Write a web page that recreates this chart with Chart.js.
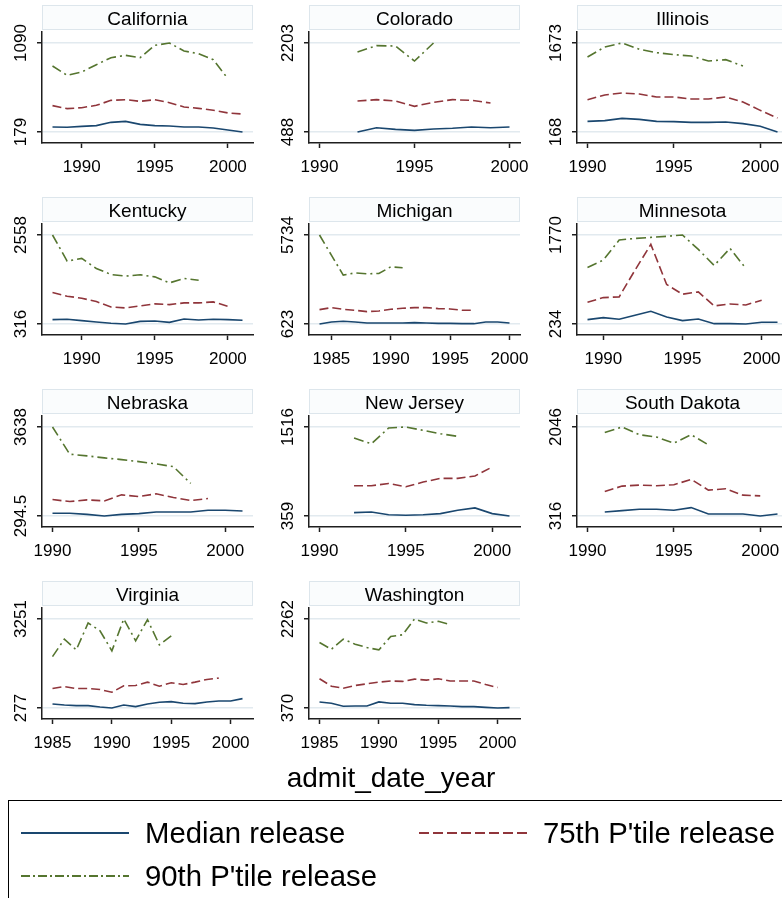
<!DOCTYPE html>
<html>
<head>
<meta charset="utf-8">
<script src="https://cdn.jsdelivr.net/npm/chart.js@4.4.1/dist/chart.umd.min.js"></script>
<style>
  html, body { margin: 0; padding: 0; background: #fff; }
  #page { position: relative; width: 782px; height: 898px; overflow: hidden;
          font-family: "Liberation Sans", Arial, Helvetica, sans-serif; background: #fff; }
  canvas.panel { position: absolute; }
  #xtitle { position: absolute; left: 0; width: 782px; top: 762px; text-align: center;
            font-size: 28px; line-height: 32px; color: #000; }
  #legend { position: absolute; left: 8px; top: 800px; width: 800px; height: 120px;
            border: 1.5px solid #000; box-sizing: border-box; }
  #legend .item { position: absolute; font-size: 29.3px; line-height: 32px; color: #000; white-space: nowrap; }
</style>
</head>
<body>
<div id="page">
  <div id="xtitle">admit_date_year</div>
  <div id="legend">
    <svg width="790" height="110" style="position:absolute;left:0;top:0">
      <line x1="12" y1="32" x2="120" y2="32" stroke="#1a476f" stroke-width="2"/>
      <line x1="410" y1="32" x2="519" y2="32" stroke="#90353b" stroke-width="2" stroke-dasharray="10 4"/>
      <line x1="12" y1="75" x2="120" y2="75" stroke="#55752f" stroke-width="2" stroke-dasharray="9 3 2 3"/>
    </svg>
    <div class="item" style="left:136px;top:16px">Median release</div>
    <div class="item" style="left:534px;top:16px">75th P'tile release</div>
    <div class="item" style="left:136px;top:59px">90th P'tile release</div>
  </div>
</div>
<script>
// Release times by admission year, one panel per state.
// Each series starts at the state's first year; shorter series simply end earlier.
const xTicksFrom1985 = [1985, 1990, 1995, 2000];
const xTicksFrom1990 = [1990, 1995, 2000];

const caStart = 1988;
const caMedian = [230, 227, 237, 244, 278, 288, 257, 244, 240, 230, 230, 220, 199, 179];
const caP75    = [449, 418, 428, 452, 503, 510, 493, 510, 479, 435, 421, 401, 374, 363];
const caP90    = [855, 759, 793, 868, 940, 964, 940, 1066, 1090, 1008, 981, 919, 725];

const coStart = 1992;
const coMedian = [488, 571, 539, 520, 546, 559, 584, 571, 584];
const coP75    = [1085, 1111, 1085, 983, 1060, 1111, 1098, 1047];
const coP90    = [2030, 2152, 2145, 1856, 2203];

const ilStart = 1990;
const ilMedian = [348, 360, 399, 382, 348, 343, 331, 331, 337, 309, 264, 168];
const ilP75    = [715, 794, 828, 811, 760, 760, 726, 726, 760, 675, 534, 405];
const ilP90    = [1436, 1605, 1673, 1566, 1510, 1476, 1453, 1369, 1391, 1284];

const kyStart = 1988;
const kyMedian = [426, 434, 400, 367, 333, 316, 383, 392, 358, 442, 417, 434, 426, 409];
const kyP75    = [1108, 1016, 965, 881, 746, 721, 771, 822, 805, 847, 847, 872, 763];
const kyP90    = [2558, 1901, 1968, 1715, 1563, 1521, 1555, 1504, 1352, 1462, 1420];

const miStart = 1984;
const miMedian = [623, 738, 777, 738, 681, 681, 681, 681, 700, 681, 661, 661, 642, 642, 738, 738, 681];
const miP75    = [1449, 1564, 1468, 1411, 1334, 1372, 1468, 1526, 1564, 1564, 1507, 1488, 1411, 1411];
const miP90    = [5734, 4580, 3428, 3562, 3505, 3524, 3908, 3850];

const mnStart = 1989;
const mnMedian = [309, 344, 315, 384, 453, 355, 292, 321, 240, 240, 234, 263, 263];
const mnP75    = [609, 690, 702, 1164, 1608, 915, 748, 788, 546, 580, 563, 643];
const mnP90    = [1210, 1337, 1683, 1711, 1729, 1747, 1770, 1522, 1245, 1539, 1193];

const neStart = 1990;
const neMedian = [395, 395, 357, 294.5, 357, 383, 446, 446, 446, 509, 509, 484];
const neP75    = [913, 837, 900, 862, 1089, 1026, 1127, 989, 875, 951];
const neP90    = [3638, 2616, 2553, 2477, 2414, 2338, 2250, 2149, 1518];

const njStart = 1992;
const njMedian = [403, 411, 376, 368, 376, 390, 433, 464, 390, 359];
const njP75    = [752, 752, 782, 739, 800, 848, 848, 879, 996];
const njP90    = [1372, 1298, 1503, 1516, 1472, 1429, 1394];

const sdStart = 1991;
const sdMedian = [394, 420, 447, 447, 427, 479, 355, 355, 355, 316, 355];
const sdP75    = [793, 897, 917, 904, 923, 1028, 819, 845, 721, 708];
const sdP90    = [1941, 2046, 1896, 1850, 1733, 1896, 1700];

const vaStart = 1985;
const vaMedian = [412, 378, 356, 356, 311, 277, 378, 322, 412, 468, 490, 434, 423, 479, 513, 513, 591];
const vaP75    = [928, 995, 928, 928, 894, 804, 1018, 1029, 1141, 1007, 1119, 1063, 1141, 1231, 1276];
const vaP90    = [1994, 2578, 2219, 3117, 2858, 2185, 3251, 2522, 3229, 2387, 2690];

const waStart = 1985;
const waMedian = [499, 470, 406, 413, 413, 499, 470, 470, 441, 427, 420, 413, 399, 399, 384, 370, 377];
const waP75    = [991, 834, 791, 848, 884, 920, 943, 935, 984, 963, 991, 943, 943, 943, 870, 806];
const waP90    = [1762, 1619, 1834, 1726, 1655, 1605, 1891, 1927, 2262, 2176, 2212, 2141];

const panels = [
  { name: 'California',   start: caStart, median: caMedian, p75: caP75, p90: caP90, xTicks: xTicksFrom1990 },
  { name: 'Colorado',     start: coStart, median: coMedian, p75: coP75, p90: coP90, xTicks: xTicksFrom1990 },
  { name: 'Illinois',     start: ilStart, median: ilMedian, p75: ilP75, p90: ilP90, xTicks: xTicksFrom1990 },
  { name: 'Kentucky',     start: kyStart, median: kyMedian, p75: kyP75, p90: kyP90, xTicks: xTicksFrom1990 },
  { name: 'Michigan',     start: miStart, median: miMedian, p75: miP75, p90: miP90, xTicks: xTicksFrom1985 },
  { name: 'Minnesota',    start: mnStart, median: mnMedian, p75: mnP75, p90: mnP90, xTicks: xTicksFrom1990 },
  { name: 'Nebraska',     start: neStart, median: neMedian, p75: neP75, p90: neP90, xTicks: xTicksFrom1990 },
  { name: 'New Jersey',   start: njStart, median: njMedian, p75: njP75, p90: njP90, xTicks: xTicksFrom1990 },
  { name: 'South Dakota', start: sdStart, median: sdMedian, p75: sdP75, p90: sdP90, xTicks: xTicksFrom1990 },
  { name: 'Virginia',     start: vaStart, median: vaMedian, p75: vaP75, p90: vaP90, xTicks: xTicksFrom1985 },
  { name: 'Washington',   start: waStart, median: waMedian, p75: waP75, p90: waP90, xTicks: xTicksFrom1985 }
];

const FONT = '"Liberation Sans", Arial, Helvetica, sans-serif';
const NAVY = '#1a476f', MAROON = '#90353b', FOREST = '#55752f';
const AXIS = '#1e1e1e', GRID = '#e2eaef';

// Panel geometry (pixels)
const COL_AXIS_X = [42, 309, 577];
const ROW_PITCH = 192;
const CANVAS_W = 261, CANVAS_H = 190;
const AREA_LEFT = 42, AREA_RIGHT = 253, AREA_TOP = 32, AREA_BOTTOM = 143;
const X_PAD = 10.5, Y_PAD = 11;

function toPoints(start, values) {
  return values.map((v, i) => ({ x: start + i, y: v }));
}

// Draws the strip title box above each plot and the rotated y tick labels.
const panelDecor = {
  id: 'panelDecor',
  afterDraw(chart, args, opts) {
    const ctx = chart.ctx, a = chart.chartArea;
    ctx.save();
    ctx.fillStyle = '#fafcfd';
    ctx.fillRect(a.left, 5, a.right - a.left, 25);
    ctx.strokeStyle = '#dde6ec';
    ctx.lineWidth = 1;
    ctx.strokeRect(a.left + 0.5, 5.5, a.right - a.left - 1, 24);
    ctx.fillStyle = '#000';
    ctx.font = '19px ' + FONT;
    ctx.textAlign = 'center';
    ctx.textBaseline = 'alphabetic';
    ctx.fillText(opts.title, (a.left + a.right) / 2, 24.5);

    const ys = chart.scales.y;
    ctx.font = '17px ' + FONT;
    ys.ticks.forEach(t => {
      const py = ys.getPixelForValue(t.value);
      ctx.save();
      ctx.translate(a.left - 16, py);
      ctx.rotate(-Math.PI / 2);
      ctx.fillText(String(t.value), 0, 0);
      ctx.restore();
    });
    ctx.restore();
  }
};

const page = document.getElementById('page');
panels.forEach((p, idx) => {
  const col = idx % 3, row = Math.floor(idx / 3);
  const cv = document.createElement('canvas');
  cv.className = 'panel';
  cv.width = CANVAS_W; cv.height = CANVAS_H;
  cv.style.left = (COL_AXIS_X[col] - AREA_LEFT) + 'px';
  cv.style.top = (row * ROW_PITCH) + 'px';
  page.insertBefore(cv, page.firstChild);

  const all = p.median.concat(p.p75, p.p90);
  const yLo = Math.min(...all), yHi = Math.max(...all);
  const lastYear = p.start + Math.max(p.median.length, p.p75.length, p.p90.length) - 1;
  const xLo = Math.min(p.start, p.xTicks[0]);
  const xHi = Math.max(lastYear, p.xTicks[p.xTicks.length - 1]);
  const xSpanPx = (AREA_RIGHT - AREA_LEFT) - 2 * X_PAD;
  const ySpanPx = (AREA_BOTTOM - AREA_TOP) - 2 * Y_PAD;
  const xm = (xHi - xLo) * X_PAD / xSpanPx;
  const ym = (yHi - yLo) * Y_PAD / ySpanPx;

  const line = (label, data, color, dash) => ({
    label, data, borderColor: color, borderWidth: 1.6, borderDash: dash,
    pointRadius: 0, fill: false, tension: 0
  });

  new Chart(cv, {
    type: 'line',
    data: {
      datasets: [
        line("Median release", toPoints(p.start, p.median), NAVY, []),
        line("75th P'tile release", toPoints(p.start, p.p75), MAROON, [9, 4]),
        line("90th P'tile release", toPoints(p.start, p.p90), FOREST, [10, 4, 2, 4])
      ]
    },
    options: {
      responsive: false,
      animation: false,
      devicePixelRatio: 1,
      layout: { padding: { top: AREA_TOP, right: CANVAS_W - AREA_RIGHT, left: 0, bottom: 0 } },
      plugins: {
        legend: { display: false },
        tooltip: { enabled: false },
        panelDecor: { title: p.name }
      },
      scales: {
        x: {
          type: 'linear',
          min: xLo - xm, max: xHi + xm,
          afterBuildTicks: s => { s.ticks = p.xTicks.map(v => ({ value: v })); },
          afterFit: s => { s.height = CANVAS_H - AREA_BOTTOM; s.paddingLeft = 0; s.paddingRight = 0; },
          grid: { drawOnChartArea: false, drawTicks: true, tickLength: 5, tickColor: AXIS, tickWidth: 1.5, color: AXIS },
          border: { display: true, color: AXIS, width: 1.5 },
          ticks: {
            autoSkip: false, maxRotation: 0, minRotation: 0, padding: 9,
            color: '#000', font: { family: FONT, size: 17 },
            callback: v => String(v)
          }
        },
        y: {
          type: 'linear',
          min: yLo - ym, max: yHi + ym,
          afterBuildTicks: s => { s.ticks = [{ value: yLo }, { value: yHi }]; },
          afterFit: s => { s.width = AREA_LEFT; },
          grid: { color: GRID, lineWidth: 1.5, drawTicks: true, tickLength: 5, tickColor: AXIS, tickWidth: 1.5 },
          border: { display: true, color: AXIS, width: 1.5 },
          ticks: { display: false }
        }
      }
    },
    plugins: [panelDecor]
  });
});
</script>
</body>
</html>
